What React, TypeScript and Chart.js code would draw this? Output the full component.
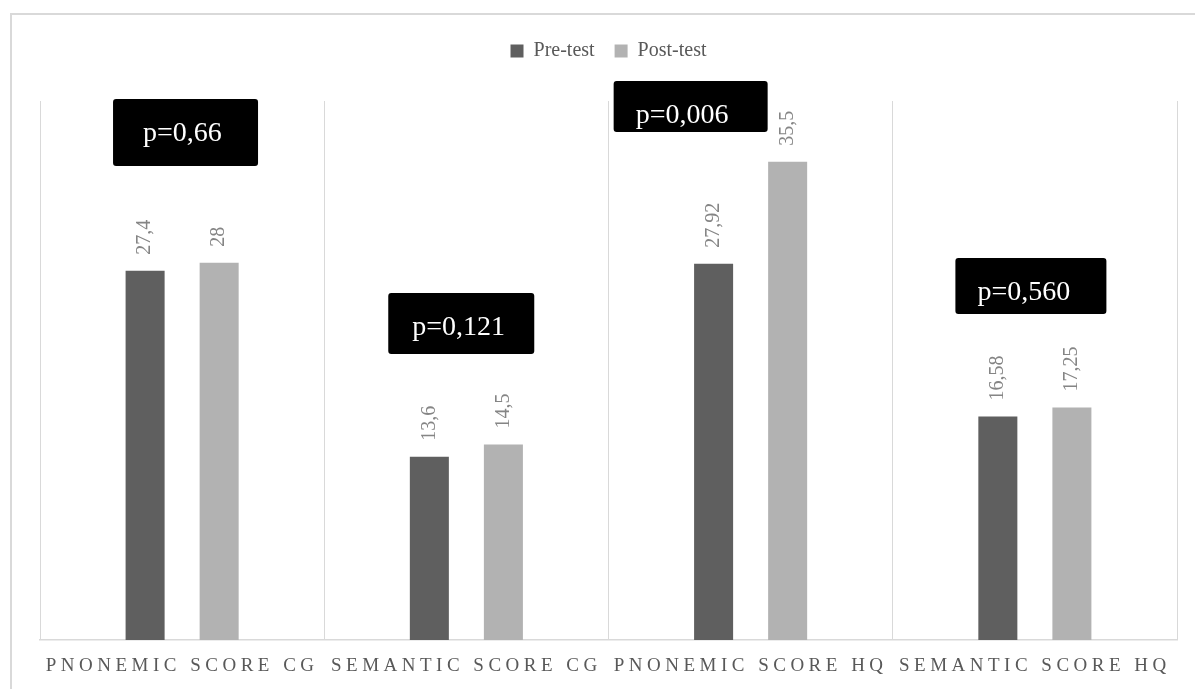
import { useEffect, useRef } from 'react';
import { Chart, registerables } from 'chart.js';

Chart.register(...registerables);

const FONT = '"Liberation Serif", "DejaVu Serif", serif';

const categories = ['PNONEMIC SCORE CG', 'SEMANTIC SCORE CG', 'PNONEMIC SCORE HQ', 'SEMANTIC SCORE HQ'];
const preTest = [27.4, 13.6, 27.92, 16.58];
const postTest = [28, 14.5, 35.5, 17.25];

// significance tags per group
const pValues = ['p=0,66', 'p=0,121', 'p=0,006', 'p=0,560'];
// tag placement: centre shift (in categories), top/bottom on the value axis, width and text inset (px)
const pBoxShift = [0.012, -0.018, -0.211, -0.014];
const pBoxTop = [40.15, 25.75, 41.48, 28.35];
const pBoxBottom = [35.18, 21.22, 37.7, 24.19];
const pBoxWidth = [145, 146, 154, 151];
const pTextInset = [30, 24, 22, 22];

const fmt = (v: number) => String(v).replace('.', ',');

const valueLabels = {
  id: 'valueLabels',
  afterDatasetsDraw(chart: any) {
    const { ctx } = chart;
    ctx.save();
    ctx.font = `20px ${FONT}`;
    ctx.fillStyle = '#858585';
    ctx.textAlign = 'left';
    ctx.textBaseline = 'middle';
    chart.data.datasets.forEach((ds: any, di: number) => {
      const meta = chart.getDatasetMeta(di);
      meta.data.forEach((bar: any, i: number) => {
        ctx.save();
        ctx.translate(bar.x, bar.y - 16);
        ctx.rotate(-Math.PI / 2);
        ctx.fillText(fmt(ds.data[i] as number), 0, 0);
        ctx.restore();
      });
    });
    ctx.restore();
  },
};

const pBoxes = {
  id: 'pBoxes',
  afterDraw(chart: any) {
    const { ctx } = chart;
    const x = chart.scales.x;
    const y = chart.scales.y;
    ctx.save();
    pValues.forEach((t, i) => {
      const cx = x.getPixelForValue(i + pBoxShift[i]);
      const top = y.getPixelForValue(pBoxTop[i]);
      const bottom = y.getPixelForValue(pBoxBottom[i]);
      const left = cx - pBoxWidth[i] / 2;
      ctx.beginPath();
      ctx.roundRect(left, top, pBoxWidth[i], bottom - top, 3);
      ctx.fillStyle = '#000000';
      ctx.fill();
      ctx.font = `28px ${FONT}`;
      ctx.fillStyle = '#ffffff';
      ctx.textAlign = 'left';
      ctx.textBaseline = 'alphabetic';
      ctx.fillText(t, left + pTextInset[i], top + 42);
    });
    ctx.restore();
  },
};

// widen the spacing between letters of the category labels
const spacedTicks = {
  id: 'spacedTicks',
  afterLayout(chart: any) {
    const sc: any = chart.scales.x;
    if (!sc || sc.__spaced) return;
    const orig = sc.drawLabels.bind(sc);
    sc.drawLabels = (area: any) => {
      const c = sc.ctx;
      c.save();
      c.letterSpacing = '4.5px';
      orig(area);
      c.restore();
    };
    sc.__spaced = true;
  },
};

export default function App() {
  const ref = useRef<HTMLCanvasElement | null>(null);

  useEffect(() => {
    if (!ref.current) return;
    const chart = new Chart(ref.current, {
      type: 'bar',
      data: {
        labels: categories,
        datasets: [
          {
            label: 'Pre-test',
            data: preTest,
            backgroundColor: '#5f5f5f',
            borderWidth: 0,
            barPercentage: 0.527,
            categoryPercentage: 0.521,
            xAxisID: 'x',
          },
          {
            label: 'Post-test',
            data: postTest,
            backgroundColor: '#b2b2b2',
            borderWidth: 0,
            barPercentage: 0.527,
            categoryPercentage: 0.521,
            xAxisID: 'x',
          },
        ],
      },
      options: {
        animation: false,
        responsive: false,
        layout: { padding: { top: 21, left: 40, right: 18, bottom: 0 } },
        plugins: {
          legend: {
            position: 'top',
            labels: {
              boxWidth: 13,
              boxHeight: 13,
              padding: 20,
              color: '#595959',
              font: { family: FONT, size: 20 },
            },
          },
          tooltip: { enabled: false },
        },
        scales: {
          x: {
            type: 'category',
            position: 'bottom',
            offset: true,
            grid: { offset: true, color: '#d9d9d9', lineWidth: 1, drawTicks: false },
            border: { color: '#d9d9d9', width: 1.5 },
            ticks: {
              color: '#595959',
              font: { family: FONT, size: 19 },
              padding: 15,
              autoSkip: false,
              maxRotation: 0,
              minRotation: 0,
            },
            afterFit: (s: any) => {
              s.height = 49;
            },
          },
          xTop: {
            type: 'category',
            position: 'top',
            grid: { display: false },
            border: { display: false },
            ticks: { display: false },
            afterFit: (s: any) => {
              s.height = 30;
            },
          },
          y: { display: false, min: 0, max: 40 },
        },
      } as any,
      plugins: [valueLabels, pBoxes, spacedTicks],
    });
    return () => chart.destroy();
  }, []);

  return (
    <div
      style={{
        position: 'absolute',
        left: 0,
        top: 0,
        width: 1195,
        height: 689,
        overflow: 'hidden',
        background: '#ffffff',
      }}
    >
      <div
        style={{
          position: 'absolute',
          left: 10,
          top: 13,
          width: 1200,
          height: 700,
          border: '2px solid #d9d9d9',
          boxSizing: 'border-box',
        }}
      />
      <canvas ref={ref} width={1195} height={689} style={{ position: 'absolute', left: 0, top: 0 }} />
    </div>
  );
}
